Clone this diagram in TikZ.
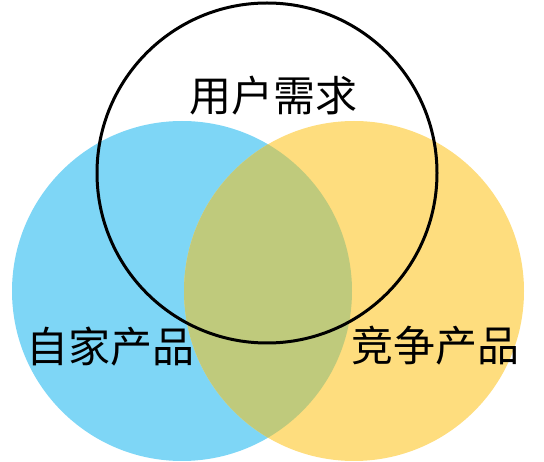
\documentclass[tikz,border=0pt]{standalone}
\usepackage{fontspec}
\newfontfamily\cjk{Noto Sans CJK SC}
\usepackage{tikz}
\usetikzlibrary{positioning}
\definecolor{ownblue}{HTML}{7ED6F6}
\definecolor{rivalyellow}{HTML}{FEDD7E}
\definecolor{bothgreen}{HTML}{BFCA7C}
\tikzset{
    venntext/.style={font=\cjk\fontsize{42}{50}\selectfont, inner sep=0pt}
}

\begin{document}
\begin{tikzpicture}[x=1pt, y=-1pt]
    \useasboundingbox (0, 0) rectangle (544, 462);

    \fill[ownblue] (182, 291) circle (170pt);
    \fill[rivalyellow] (354, 291) circle (170pt);
    \begin{scope}
        \clip (182, 291) circle (170pt);
        \fill[bothgreen] (354, 291) circle (170pt);
    \end{scope}

    \draw[line width=3pt] (267, 173) circle (170pt);

    \node[venntext] (need) at (273, 96) {用户需求};
    \node[venntext] (own) at (111, 347) {自家产品};
    \node[venntext] (rival) at (435, 346) {竞争产品};
\end{tikzpicture}
\end{document}
